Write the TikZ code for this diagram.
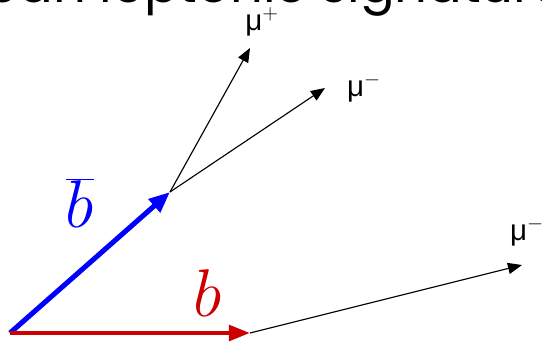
\documentclass[tikz,border=0pt]{standalone}
\usepackage{fix-cm}
\usepackage{fontspec}
\setmainfont{Liberation Sans}
\newfontfamily\titlefont{Poppins}
\usetikzlibrary{arrows.meta}
\definecolor{bred}{RGB}{204,0,0}
\begin{document}
\begin{tikzpicture}[x=0.025cm, y=-0.025cm, >={Triangle[length=10pt, width=8pt]}]
	\useasboundingbox (0,0) rectangle (542,345);
	\clip (0,0) rectangle (542,345);
	% Dinh nghia cac diem
	\path
	(10,333) coordinate (O)
	(170,192) coordinate (Bb)
	(250,333) coordinate (B)
	(250,48) coordinate (M1)
	(325,88) coordinate (M2)
	(522,265) coordinate (M3);
	% Tieu de (bi cat)
	\node[anchor=base west, inner sep=0pt, font=\titlefont\fontsize{36.5}{40}\selectfont] (title) at (-66,2) {Clean leptonic signature};
	% Cac quark b
	\draw[->, blue, line width=3.6pt, >={Triangle[length=15pt, width=12pt]}] (O) -- (Bb);
	\draw[->, bred, line width=3pt, >={Triangle[length=15pt, width=11pt]}] (O) -- (B);
	% Cac muon
	\draw[->, line width=0.8pt] (Bb) -- (M1);
	\draw[->, line width=0.8pt] (Bb) -- (M2);
	\draw[->, line width=0.8pt] (B) -- (M3);
	% Nhan
	\node[blue, font=\fontsize{48}{50}\selectfont] (lbb) at (80,203) {$\overline{b}$};
	\node[bred, font=\fontsize{48}{50}\selectfont] (lb) at (208,293) {$b$};
	\node[font=\fontsize{21}{22}\selectfont] (lm1) at (262,22) {μ$^+$};
	\node[font=\fontsize{21}{22}\selectfont] (lm2) at (364,88) {μ$^-$};
	\node[font=\fontsize{21}{22}\selectfont] (lm3) at (527,232) {μ$^-$};
\end{tikzpicture}
\end{document}
